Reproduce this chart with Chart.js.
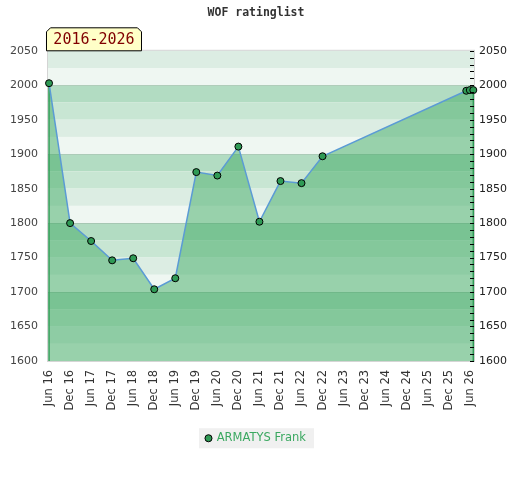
<!DOCTYPE html>
<html>
<head>
<meta charset="utf-8">
<script src="https://cdn.jsdelivr.net/npm/chart.js@4.4.1/dist/chart.umd.min.js"></script>
<style>
  body { margin: 0; background: #fff; }
</style>
</head>
<body>
<canvas id="ratingChart" width="520" height="480"></canvas>
<script>
// months counted from Jun 2016
const months = [0, 6, 12, 18, 24, 30, 36, 42, 48, 54, 60, 66, 72, 78, 119, 120, 121];
const ratings = [2003, 1800, 1774, 1746, 1749, 1704, 1720, 1874, 1869, 1911, 1802, 1861, 1858, 1897, 1992, 1993, 1993];
const xTickLabels = ['Jun 16', 'Dec 16', 'Jun 17', 'Dec 17', 'Jun 18', 'Dec 18', 'Jun 19', 'Dec 19', 'Jun 20', 'Dec 20',
    'Jun 21', 'Dec 21', 'Jun 22', 'Dec 22', 'Jun 23', 'Dec 23', 'Jun 24', 'Dec 24', 'Jun 25', 'Dec 25', 'Jun 26'];
const playerName = 'ARMATYS Frank';
const periodText = '2016-2026';
const chartTitle = 'WOF ratinglist';

const bandColors = ['#b2dcc2', '#c8e6d3', '#dcede3', '#eff7f2'];

const backdrop = {
    id: 'backdrop',
    beforeDraw(chart) {
        // grey box behind the legend item
        const hb = chart.legend && chart.legend.legendHitBoxes[0];
        if (!hb) return;
        const ctx = chart.ctx;
        ctx.save();
        ctx.fillStyle = '#f0f0f0';
        const cy = hb.top + hb.height / 2;
        ctx.fillRect(hb.left - 7, cy - 10, hb.width + 15, 20);
        ctx.restore();
    },
    beforeDatasetsDraw(chart) {
        const { ctx, chartArea: a, scales: { x, y } } = chart;
        ctx.save();
        for (let v = y.max; v > y.min; v -= 25) {
            const idx = ((((2000 - v) / 25) % 4) + 4) % 4;
            const t = y.getPixelForValue(v);
            const b = y.getPixelForValue(v - 25);
            ctx.fillStyle = bandColors[idx];
            ctx.fillRect(a.left, t, a.right - a.left, b - t);
        }
        ctx.strokeStyle = 'rgba(0,0,0,0.1)';
        ctx.lineWidth = 1;
        for (let v = 1700; v <= 2000; v += 100) {
            const py = Math.round(y.getPixelForValue(v)) + 0.5;
            ctx.beginPath();
            ctx.moveTo(a.left, py);
            ctx.lineTo(a.right, py);
            ctx.stroke();
        }
        ctx.strokeStyle = '#d4d4d4';
        ctx.strokeRect(a.left - 0.5, a.top - 0.5, a.right - a.left + 1, a.bottom - a.top + 1);

        // green edges of the filled area
        ctx.strokeStyle = '#2f9a55';
        ctx.lineWidth = 1.5;
        [0, months.length - 1].forEach(i => {
            const px = x.getPixelForValue(months[i]);
            ctx.beginPath();
            ctx.moveTo(px, y.getPixelForValue(ratings[i]));
            ctx.lineTo(px, a.bottom);
            ctx.stroke();
        });
        ctx.restore();
    },
    afterDraw(chart) {
        const { ctx, chartArea: a, scales: { y2 } } = chart;
        ctx.save();
        // minor ticks on the right axis
        ctx.strokeStyle = '#000';
        ctx.lineWidth = 1;
        for (let v = y2.min; v <= y2.max; v += 10) {
            const py = Math.round(y2.getPixelForValue(v)) + 0.5;
            ctx.beginPath();
            ctx.moveTo(a.right - 4, py);
            ctx.lineTo(a.right, py);
            ctx.stroke();
        }
        // period badge
        const l = a.left - 1.5, r = l + 95, b = a.top, t = b - 23, c = 4;
        ctx.beginPath();
        ctx.moveTo(l, b);
        ctx.lineTo(l, t + c);
        ctx.lineTo(l + c, t);
        ctx.lineTo(r - c, t);
        ctx.lineTo(r, t + c);
        ctx.lineTo(r, b);
        ctx.closePath();
        ctx.fillStyle = '#ffffc8';
        ctx.fill();
        ctx.strokeStyle = '#000';
        ctx.stroke();
        ctx.fillStyle = '#800000';
        ctx.font = '15px "DejaVu Sans Mono"';
        ctx.textAlign = 'center';
        ctx.textBaseline = 'middle';
        ctx.fillText(periodText, (l + r) / 2, (t + b) / 2 + 1);
        ctx.restore();
    }
};

const plainNumber = v => String(v);

const ctx = document.getElementById('ratingChart').getContext('2d');
const ratingChart = new Chart(ctx, {
    type: 'line',
    data: {
        datasets: [{
            label: playerName,
            data: months.map((m, i) => ({ x: m, y: ratings[i] })),
            borderColor: '#5b9bd5',
            borderWidth: 1.5,
            backgroundColor: 'rgba(62, 169, 98, 0.49)',
            fill: 'start',
            tension: 0,
            pointRadius: 3.5,
            pointBackgroundColor: '#2f9a55',
            pointBorderColor: '#000',
            pointBorderWidth: 1,
            clip: false
        }]
    },
    plugins: [backdrop],
    options: {
        responsive: false,
        animation: false,
        layout: { padding: { left: 0, right: 8, top: 0, bottom: 26 } },
        plugins: {
            title: {
                display: true,
                text: chartTitle,
                color: '#333',
                font: { family: '"DejaVu Sans Mono"', size: 11.5, weight: 'bold' },
                padding: { top: 6, bottom: 31 }
            },
            legend: {
                position: 'bottom',
                labels: {
                    usePointStyle: true,
                    boxWidth: 5,
                    boxHeight: 5,
                    padding: 13,
                    color: '#3aa860',
                    font: { family: '"DejaVu Sans"', size: 11.5 }
                }
            },
            tooltip: { enabled: false }
        },
        scales: {
            x: {
                type: 'linear',
                min: -0.3,
                max: 121.2,
                afterBuildTicks: scale => {
                    scale.ticks = xTickLabels.map((_, i) => ({ value: i * 6 }));
                },
                ticks: {
                    autoSkip: false,
                    minRotation: 90,
                    maxRotation: 90,
                    padding: 9,
                    color: '#333',
                    font: { family: '"DejaVu Sans"', size: 11.5 },
                    callback: v => xTickLabels[Math.round(v / 6)]
                },
                grid: { display: false, drawTicks: false },
                border: { display: false }
            },
            y: {
                min: 1600,
                max: 2050,
                ticks: {
                    stepSize: 50,
                    padding: 10,
                    color: '#444',
                    font: { family: '"DejaVu Sans"', size: 11 },
                    callback: plainNumber
                },
                grid: { display: false, drawTicks: false },
                border: { display: false }
            },
            y2: {
                position: 'right',
                min: 1600,
                max: 2050,
                ticks: {
                    stepSize: 50,
                    padding: 5,
                    color: '#222',
                    font: { family: '"DejaVu Sans"', size: 11 },
                    callback: plainNumber
                },
                grid: { display: false, drawTicks: false },
                border: { display: false }
            }
        }
    }
});
</script>
</body>
</html>
